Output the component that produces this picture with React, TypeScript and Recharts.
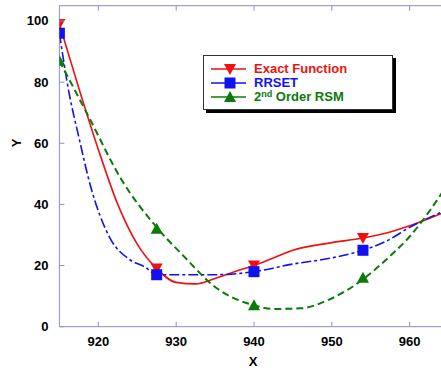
import React from "react";
import { ComposedChart, Line, Scatter, XAxis, YAxis } from "recharts";

const exactX = [915, 917.5, 920, 922.5, 925, 927.5, 930, 932.5, 935, 937.5, 940, 942.5, 945, 950, 954, 957.5, 960, 965];
const exactY = [99, 78, 58, 40, 27, 19, 14.5, 14, 15.8, 18, 20, 22.5, 25, 27.5, 29, 31, 33, 38];

const rrsetX = [915, 916.2, 917.5, 919, 921.5, 924, 926, 927.5, 930, 935, 940, 945, 950, 954, 957, 960, 965];
const rrsetY = [96, 77, 62, 46, 29, 22, 19.5, 17, 17, 17, 18, 20.5, 22.5, 25, 28, 32.5, 38.5];

const rsmX = [915, 918.7, 923, 927.5, 931, 935, 940, 942.5, 946, 949.5, 954, 957, 960, 965];
const rsmY = [87, 69, 48, 32.5, 23, 13, 7, 5.8, 6, 8.7, 15.5, 22, 29.5, 47];

const markerX = [915, 927.5, 940, 954];
const exactMarkers = [99, 19, 20, 29];
const rrsetMarkers = [96, 17, 18, 25];
const rsmMarkers = [87, 32, 7, 16];

const xTicks = [920, 930, 940, 950, 960];
const yTicks = [0, 20, 40, 60, 80, 100];

const seriesNames = ["Exact Function", "RRSET", "2nd Order RSM"];

const RED = "#f01010";
const BLUE = "#1010f0";
const GREEN = "#0a7a0a";
const AXIS = "#8c8cd0";
const FONT = "'Liberation Sans', Arial, sans-serif";

const zip = (xs: number[], ys: number[]) => xs.map((x, i) => ({ x, y: ys[i] }));

const exactData = zip(exactX, exactY);
const rrsetData = zip(rrsetX, rrsetY);
const rsmData = zip(rsmX, rsmY);
const exactMk = zip(markerX, exactMarkers);
const rrsetMk = zip(markerX, rrsetMarkers);
const rsmMk = zip(markerX, rsmMarkers);

const DownTri = (p: any) => (
  <polygon points={`${p.cx - 6},${p.cy - 5} ${p.cx + 6},${p.cy - 5} ${p.cx},${p.cy + 6}`} fill={RED} />
);
const UpTri = (p: any) => (
  <polygon points={`${p.cx - 6},${p.cy + 5} ${p.cx + 6},${p.cy + 5} ${p.cx},${p.cy - 6}`} fill={GREEN} />
);
const Sq = (p: any) => <rect x={p.cx - 5.5} y={p.cy - 5.5} width={11} height={11} fill={BLUE} />;

const YTick = (p: any) => (
  <g>
    <line x1={p.x} y1={p.y} x2={p.x + 5} y2={p.y} stroke={AXIS} strokeWidth={1} />
    <text x={p.x - 11} y={p.y + 4.5} textAnchor="end" fontFamily={FONT} fontWeight="bold" fontSize={13} fill="#000">
      {p.payload.value}
    </text>
  </g>
);
const XTick = (p: any) => (
  <g>
    <line x1={p.x} y1={p.y} x2={p.x} y2={p.y - 5} stroke={AXIS} strokeWidth={1} />
    <text x={p.x} y={p.y + 19.5} textAnchor="middle" fontFamily={FONT} fontWeight="bold" fontSize={13} fill="#000">
      {p.payload.value}
    </text>
  </g>
);
const TopTick = (p: any) => (
  <line x1={p.x} y1={p.y} x2={p.x} y2={p.y + 5} stroke={AXIS} strokeWidth={1} />
);

const LegendRow = ({ top, color, name, marker }: any) => (
  <div style={{ position: "absolute", left: 0, top: top - 8, height: 16, width: 186, display: "flex", alignItems: "center" }}>
    <svg width={48} height={16} style={{ display: "block", flex: "none" }}>
      <line x1={7} y1={8} x2={42} y2={8} stroke={color} strokeWidth={1.5} />
      {marker === "down" && <polygon points="20,3 32,3 26,14" fill={color} />}
      {marker === "sq" && <rect x={20.5} y={2.5} width={11} height={11} fill={color} />}
      {marker === "up" && <polygon points="20,13 32,13 26,2" fill={color} />}
    </svg>
    <span style={{ marginLeft: 2, color, fontFamily: FONT, fontWeight: "bold", fontSize: 13, lineHeight: "16px", whiteSpace: "nowrap" }}>
      {name === "2nd Order RSM" ? (
        <>
          2<span style={{ fontSize: 9, position: "relative", top: -4 }}>nd</span> Order RSM
        </>
      ) : (
        name
      )}
    </span>
  </div>
);

export default function App() {
  return (
    <div style={{ position: "absolute", left: 0, top: 0, width: 441, height: 373, overflow: "hidden", background: "#fff" }}>
      <ComposedChart
        width={460}
        height={373}
        margin={{ top: 4.7, right: 11.4, left: 58.4, bottom: 45.3 }}
      >
        <XAxis
          dataKey="x"
          type="number"
          domain={[915, 965]}
          ticks={xTicks}
          allowDataOverflow
          height={1}
          tickSize={0}
          tickMargin={0}
          tickLine={false}
          axisLine={{ stroke: AXIS }}
          tick={XTick}
          interval={0}
        />
        <XAxis
          xAxisId="top"
          orientation="top"
          dataKey="x"
          type="number"
          domain={[915, 965]}
          ticks={xTicks}
          allowDataOverflow
          height={1}
          tickSize={0}
          tickMargin={0}
          tickLine={false}
          axisLine={{ stroke: AXIS }}
          tick={TopTick}
          interval={0}
        />
        <YAxis
          type="number"
          domain={[0, 105]}
          ticks={yTicks}
          allowDataOverflow
          width={1}
          tickSize={0}
          tickMargin={0}
          tickLine={false}
          axisLine={{ stroke: AXIS }}
          tick={YTick}
          interval={0}
        />
        <Line data={exactData} dataKey="y" type="monotone" stroke={RED} strokeWidth={1.6} dot={false} isAnimationActive={false} name={seriesNames[0]} />
        <Line data={rrsetData} dataKey="y" type="monotone" stroke={BLUE} strokeWidth={1.6} strokeDasharray="10 3 3 3" dot={false} isAnimationActive={false} name={seriesNames[1]} />
        <Line data={rsmData} dataKey="y" type="monotone" stroke={GREEN} strokeWidth={2} strokeDasharray="7 4" dot={false} isAnimationActive={false} name={seriesNames[2]} />
        <Scatter data={rsmMk} dataKey="y" shape={UpTri} isAnimationActive={false} />
        <Scatter data={exactMk} dataKey="y" shape={DownTri} isAnimationActive={false} />
        <Scatter data={rrsetMk} dataKey="y" shape={Sq} isAnimationActive={false} />
      </ComposedChart>
      <div style={{ position: "absolute", left: 17, top: 143, transform: "translate(-50%, -50%) rotate(-90deg)", fontFamily: FONT, fontWeight: "bold", fontSize: 13, lineHeight: "14px" }}>
        Y
      </div>
      <div style={{ position: "absolute", left: 253, top: 362, transform: "translate(-50%, -50%)", fontFamily: FONT, fontWeight: "bold", fontSize: 13, lineHeight: "14px" }}>
        X
      </div>
      <div style={{ position: "absolute", left: 203, top: 55, width: 188, height: 53, border: "1px solid #333", background: "#fff", boxShadow: "3px 3px 0 #000" }}>
        <LegendRow top={13} color={RED} name={seriesNames[0]} marker="down" />
        <LegendRow top={27} color={BLUE} name={seriesNames[1]} marker="sq" />
        <LegendRow top={41} color={GREEN} name={seriesNames[2]} marker="up" />
      </div>
    </div>
  );
}
